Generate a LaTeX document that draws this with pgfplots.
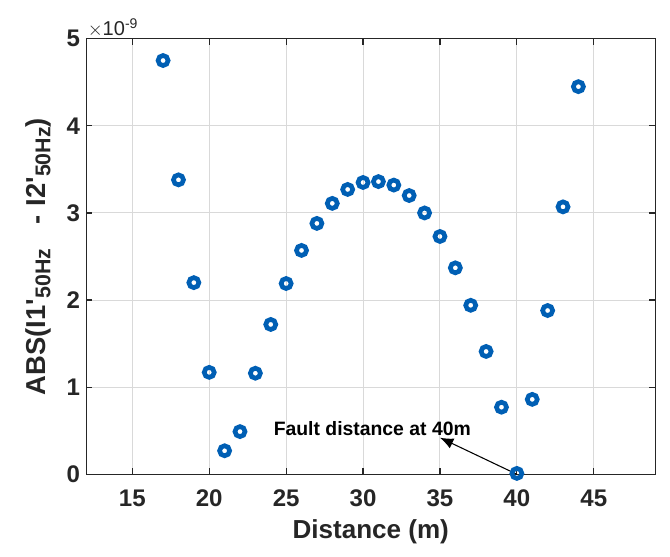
\documentclass[border=0pt]{standalone}
\usepackage{pgfplots}
\pgfplotsset{compat=1.18}
\usepackage{fontspec}
\setmainfont{Liberation Sans}
\usetikzlibrary{arrows.meta,calc}
\definecolor{mblue}{RGB}{0,95,180}
\definecolor{axgray}{RGB}{38,38,38}
\pgfplotstableread{
x y
17 4.75
18 3.38
19 2.20
20 1.17
21 0.27
22 0.49
23 1.16
24 1.72
25 2.19
26 2.57
27 2.88
28 3.11
29 3.27
30 3.35
31 3.36
32 3.32
33 3.20
34 3.00
35 2.73
36 2.37
37 1.94
38 1.41
39 0.77
40 0.01
41 0.86
42 1.88
43 3.07
44 4.45
}\datatab
\newcommand{\sub}[1]{\raisebox{-0.35ex}{\fontsize{16pt}{17pt}\selectfont #1}}
\begin{document}
\begin{tikzpicture}
\begin{axis}[
  scale only axis,
  width=426pt, height=326pt,
  xmin=12, xmax=49, ymin=0, ymax=5,
  xtick={15,20,25,30,35,40,45},
  ytick={0,1,2,3,4,5},
  grid=major,
  major grid style={draw=black!15, line width=0.7pt},
  axis line style={draw=axgray, line width=0.9pt},
  tick style={draw=axgray, line width=0.9pt},
  tick align=inside,
  major tick length=4.5pt,
  /pgf/number format/assume math mode=true,
  tick label style={font=\fontsize{18pt}{19pt}\selectfont\bfseries, text=axgray},
  xticklabel style={yshift=-8pt},
  yticklabel style={xshift=-1pt},
  xlabel={Distance (m)},
  ylabel={ABS(I1\textquotesingle\sub{50Hz}\hspace{18pt}-\hspace{7pt}I2\textquotesingle\sub{50Hz})},
  label style={font=\fontsize{19.5pt}{21pt}\selectfont\bfseries, text=axgray},
  ylabel style={font=\fontsize{20.5pt}{22pt}\selectfont\bfseries, yshift=5pt},
  xlabel style={yshift=-3pt},
  clip=false,
]
\addplot[only marks, mark=o, mark size=3.75pt, mark options={draw=mblue, line width=3.5pt}] table[x=x,y=y] {\datatab};
\draw[-{Latex[length=10pt,width=8pt]}, line width=0.8pt, black] (axis cs:40,0) -- (axis cs:35.0,0.42);
\node[font=\fontsize{14.5pt}{16pt}\selectfont\bfseries, text=black] at (axis cs:30.6,0.53) {Fault distance at 40m};
\node[anchor=south west, font=\fontsize{15pt}{16pt}\selectfont, text=axgray, inner sep=1pt] at (axis cs:12,5) {$\times$10\textsuperscript{-9}};
\end{axis}
\pgfresetboundingbox
\path ($(current axis.south west)+(-64.5pt,-61.5pt)$) rectangle ($(current axis.north east)+(11pt,29pt)$);
\end{tikzpicture}
\end{document}
